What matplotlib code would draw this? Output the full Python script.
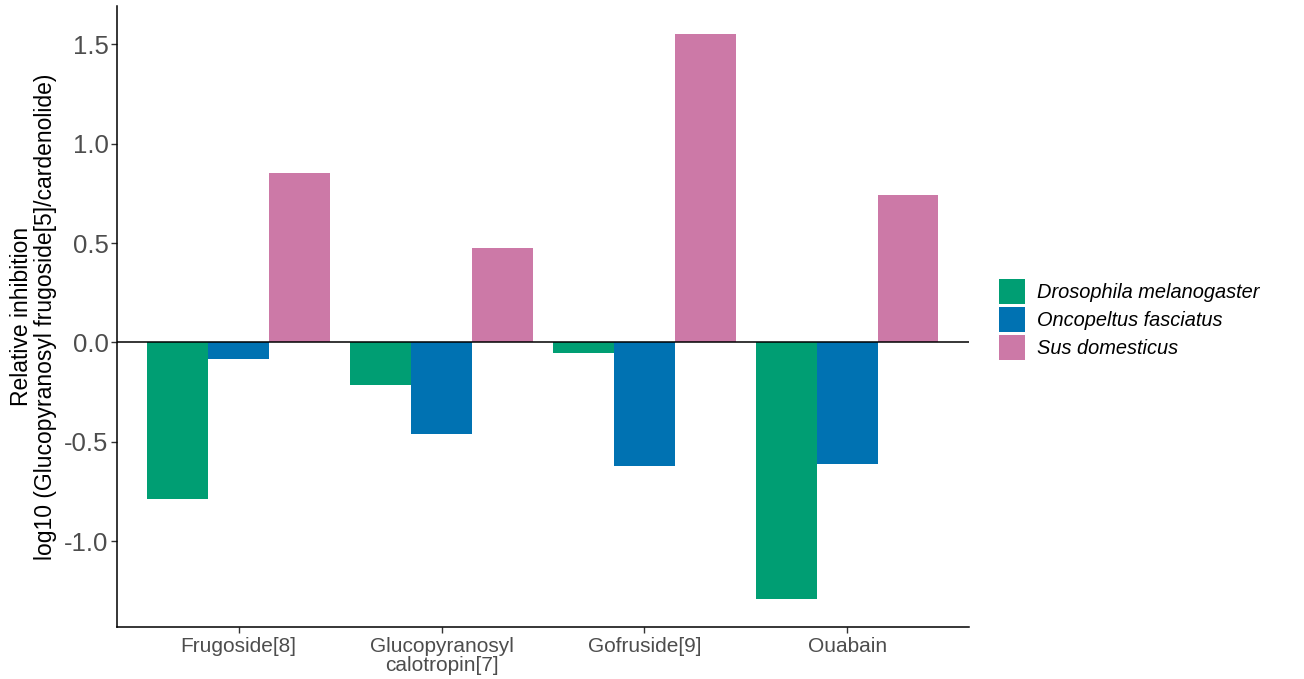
import matplotlib.pyplot as plt
import numpy as np
from matplotlib.patches import Patch

plt.rcParams['font.family'] = ['Liberation Sans', 'DejaVu Sans']

compounds = ['Frugoside[8]', 'Glucopyranosyl\ncalotropin[7]', 'Gofruside[9]', 'Ouabain']
species = ['Drosophila melanogaster', 'Oncopeltus fasciatus', 'Sus domesticus']
colors = ['#009E73', '#0072B2', '#CC79A7']

drosophila = [-0.786, -0.213, -0.055, -1.290]
oncopeltus = [-0.084, -0.460, -0.620, -0.610]
sus = [0.851, 0.478, 1.551, 0.740]

values = [drosophila, oncopeltus, sus]

fig = plt.figure(figsize=(13.04, 6.79), dpi=100)
ax = fig.add_axes([0.0897, 0.0766, 0.6533, 0.9144])

x = np.arange(1, len(compounds) + 1)
width = 0.3
for i, (vals, col) in enumerate(zip(values, colors)):
    ax.bar(x + (i - 1) * width, vals, width=width, color=col, linewidth=0)

ax.axhline(0, color='black', linewidth=1.1)

# ggplot-style padding around the data
lo = min(min(v) for v in values)
hi = max(max(v) for v in values)
pad = (hi - lo) * 0.05
ax.set_ylim(lo - pad, hi + pad)
ax.set_xlim(0.4, len(compounds) + 0.6)

ax.set_xticks(x)
ax.set_xticklabels(compounds, fontsize=15, color='#4D4D4D', linespacing=1.05)
ax.set_yticks([-1.0, -0.5, 0.0, 0.5, 1.0, 1.5])
ax.set_yticklabels(['-1.0', '-0.5', '0.0', '0.5', '1.0', '1.5'], fontsize=18.5, color='#4D4D4D')
ax.tick_params(axis='both', direction='out', length=4, width=1, color='#333333')
ax.tick_params(axis='y', pad=2)
ax.tick_params(axis='x', pad=3)

for side in ['top', 'right']:
    ax.spines[side].set_visible(False)
for side in ['left', 'bottom']:
    ax.spines[side].set_color('black')
    ax.spines[side].set_linewidth(1.1)

ax.set_ylabel('Relative inhibition\nlog10 (Glucopyranosyl frugoside[5]/cardenolide)',
              fontsize=16.5, labelpad=5, linespacing=1.05)

handles = [Patch(facecolor=c, edgecolor='none') for c in colors]
leg = fig.legend(handles, species, loc='center left', bbox_to_anchor=(0.766, 0.529),
                 frameon=False, fontsize=14.4, borderaxespad=0, borderpad=0,
                 handlelength=1.32, handleheight=1.55, handletextpad=0.6,
                 labelspacing=0.15)
for t in leg.get_texts():
    t.set_fontstyle('italic')

fig.savefig('out.png', dpi=100)
